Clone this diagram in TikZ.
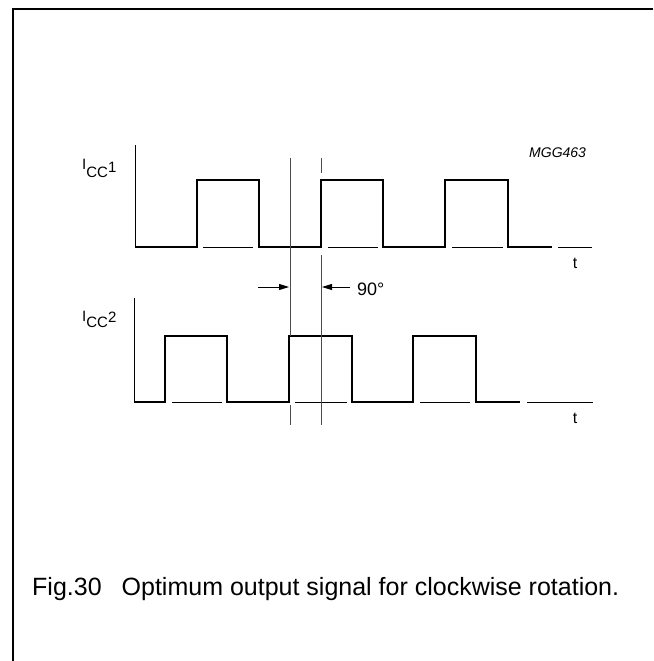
\documentclass[tikz,border=0pt]{standalone}
\usepackage{fontspec}
\setmainfont{Liberation Sans}
\usetikzlibrary{arrows.meta}
\begin{document}
\begin{tikzpicture}[x=1pt,y=-1pt,
  sig/.style={line width=2.4pt, line join=miter},
  thinln/.style={line width=0.9pt},
  guide/.style={line width=0.9pt, draw=black!70},
  arr/.style={line width=0.9pt, -{Triangle[length=10pt,width=6pt]}},
  lbl/.style={inner sep=0pt, font=\fontsize{16}{16}\selectfont}]
\useasboundingbox (0,0) rectangle (653,661);
\draw[line width=1.3pt] (653,9) -- (13,9) -- (13,661);

% signal 1
\draw[thinln] (135,145) -- (135,247);
\draw[sig] (135,247) -- (197,247) -- (197,180) -- (259,180) -- (259,247) -- (321,247) -- (321,180) -- (383,180) -- (383,247) -- (445,247) -- (445,180) -- (508,180) -- (508,247) -- (552,247);
\draw[thinln] (203,247) -- (253,247) (328,247) -- (378,247) (452,247) -- (503,247) (558,247) -- (592,247);

% signal 2
\draw[thinln] (134,298) -- (134,402);
\draw[sig] (134,402) -- (165,402) -- (165,336) -- (227,336) -- (227,402) -- (289,402) -- (289,336) -- (352,336) -- (352,402) -- (413,402) -- (413,336) -- (476,336) -- (476,402) -- (520,402);
\draw[thinln] (172,402) -- (222,402) (295,402) -- (347,402) (420,402) -- (470,402) (527,402) -- (593,402);

% guide lines
\draw[guide] (290,158) -- (290,336);
\draw[guide] (290,405) -- (290,425);
\draw[guide] (321,158) -- (321,173);
\draw[guide] (321,255) -- (321,425);

% 90 degree arrows
\coordinate (a1s) at (258,287);
\coordinate (a1e) at (289,287);
\coordinate (a2s) at (350,287);
\coordinate (a2e) at (322,287);
\draw[arr] (a1s) -- (a1e);
\draw[arr] (a2s) -- (a2e);
\node[lbl, anchor=base west, font=\fontsize{18}{18}\selectfont] (deg) at (357,295) {90°};

% labels
\node[lbl, anchor=base west, font=\fontsize{15}{15}\selectfont] (icc1) at (82,177) {\raisebox{8pt}{I}CC\raisebox{5pt}{1}};
\node[lbl, anchor=base west, font=\fontsize{15}{15}\selectfont] (icc2) at (82,327) {\raisebox{6pt}{I}CC\raisebox{5pt}{2}};
\node[lbl, anchor=base] (t1) at (575,268) {t};
\node[lbl, anchor=base] (t2) at (575,423) {t};
\node[lbl, anchor=base west, font=\fontsize{14}{14}\selectfont\itshape] (mgg) at (529,157) {MGG463};

% caption
\node[lbl, anchor=base west, font=\fontsize{25}{25}\selectfont] (cap) at (32,595) {Fig.30\hspace{0.8em}Optimum output signal for clockwise rotation.};
\end{tikzpicture}
\end{document}
